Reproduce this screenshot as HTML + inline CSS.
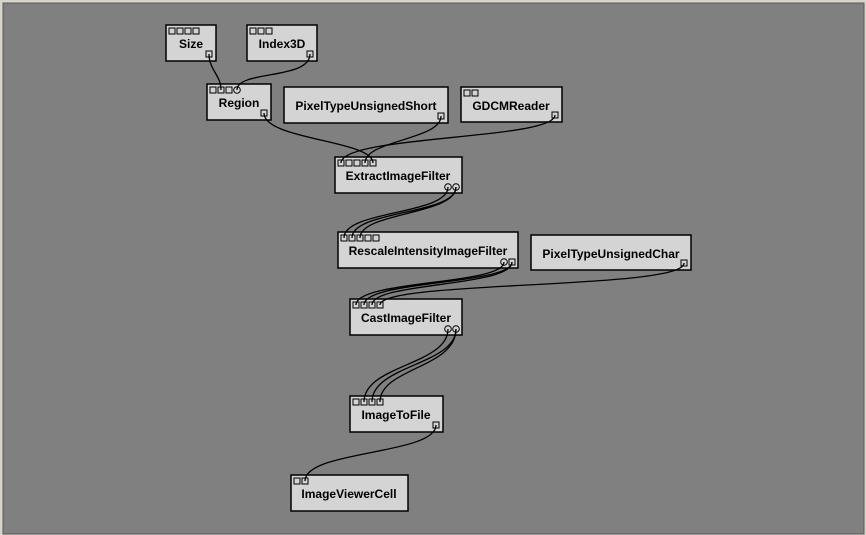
<!DOCTYPE html>
<html><head><meta charset="utf-8"><style>
html,body{margin:0;padding:0;background:#d8d4cc;}
svg{display:block}
text{font-family:"Liberation Sans",sans-serif;font-weight:bold;font-size:12px;fill:#000;text-anchor:middle}
.b{fill:#d4d4d4;stroke:#000;stroke-width:1.5}
.p{fill:#d4d4d4;stroke:#000;stroke-width:1}
.c{fill:none;stroke:#000;stroke-width:1.3}
</style></head><body>
<svg width="866" height="535" viewBox="0 0 866 535" xmlns="http://www.w3.org/2000/svg">
<rect x="0" y="0" width="866" height="535" fill="#d8d4cc"/>
<rect x="3" y="3" width="861" height="531" fill="#808080" stroke="#5a5a5a" stroke-width="1"/>
<g id="boxes">
<rect class="b" x="166" y="25" width="50" height="36"/><text x="191" y="48">Size</text>
<rect class="b" x="247" y="25" width="70" height="36"/><text x="282" y="48">Index3D</text>
<rect class="b" x="207" y="84" width="64" height="36"/><text x="239" y="107">Region</text>
<rect class="b" x="284" y="87" width="164" height="36"/><text x="366" y="110">PixelTypeUnsignedShort</text>
<rect class="b" x="461" y="87" width="101" height="35"/><text x="511" y="110">GDCMReader</text>
<rect class="b" x="335" y="157" width="127" height="36"/><text x="398" y="180">ExtractImageFilter</text>
<rect class="b" x="338" y="232" width="180" height="36"/><text x="428" y="255">RescaleIntensityImageFilter</text>
<rect class="b" x="531" y="235" width="160" height="35"/><text x="611" y="258">PixelTypeUnsignedChar</text>
<rect class="b" x="350" y="299" width="112" height="36"/><text x="406" y="322">CastImageFilter</text>
<rect class="b" x="350" y="396" width="93" height="36"/><text x="396" y="419">ImageToFile</text>
<rect class="b" x="291" y="475" width="117" height="36"/><text x="349" y="498">ImageViewerCell</text>
</g>
<g id="ports">
<!-- Size 4 in -->
<rect class="p" x="169" y="28" width="6" height="6"/><rect class="p" x="177" y="28" width="6" height="6"/><rect class="p" x="185" y="28" width="6" height="6"/><rect class="p" x="193" y="28" width="6" height="6"/>
<rect class="p" x="206" y="51" width="6" height="6"/>
<!-- Index3D -->
<rect class="p" x="250" y="28" width="6" height="6"/><rect class="p" x="258" y="28" width="6" height="6"/><rect class="p" x="266" y="28" width="6" height="6"/>
<rect class="p" x="307" y="51" width="6" height="6"/>
<!-- Region -->
<rect class="p" x="210" y="87" width="6" height="6"/><rect class="p" x="218" y="87" width="6" height="6"/><rect class="p" x="226" y="87" width="6" height="6"/><circle class="p" cx="237" cy="90" r="3.3"/>
<rect class="p" x="261" y="110" width="6" height="6"/>
<!-- PTUS -->
<rect class="p" x="438" y="113" width="6" height="6"/>
<!-- GDCM -->
<rect class="p" x="464" y="90" width="6" height="6"/><rect class="p" x="472" y="90" width="6" height="6"/>
<rect class="p" x="552" y="112" width="6" height="6"/>
<!-- Extract -->
<rect class="p" x="338" y="160" width="6" height="6"/><rect class="p" x="346" y="160" width="6" height="6"/><rect class="p" x="354" y="160" width="6" height="6"/><rect class="p" x="362" y="160" width="6" height="6"/><rect class="p" x="370" y="160" width="6" height="6"/>
<circle class="p" cx="448" cy="187" r="3.3"/><circle class="p" cx="456" cy="187" r="3.3"/>
<!-- Rescale -->
<rect class="p" x="341" y="235" width="6" height="6"/><rect class="p" x="349" y="235" width="6" height="6"/><rect class="p" x="357" y="235" width="6" height="6"/><rect class="p" x="365" y="235" width="6" height="6"/><rect class="p" x="373" y="235" width="6" height="6"/>
<circle class="p" cx="504" cy="262" r="3.3"/><rect class="p" x="509" y="259" width="6" height="6"/>
<!-- PTUC -->
<rect class="p" x="681" y="260" width="6" height="6"/>
<!-- Cast -->
<rect class="p" x="353" y="302" width="6" height="6"/><rect class="p" x="361" y="302" width="6" height="6"/><rect class="p" x="369" y="302" width="6" height="6"/><rect class="p" x="377" y="302" width="6" height="6"/>
<circle class="p" cx="448" cy="329" r="3.3"/><circle class="p" cx="456" cy="329" r="3.3"/>
<!-- ImageToFile -->
<rect class="p" x="353" y="399" width="6" height="6"/><rect class="p" x="361" y="399" width="6" height="6"/><rect class="p" x="369" y="399" width="6" height="6"/><rect class="p" x="377" y="399" width="6" height="6"/>
<rect class="p" x="433" y="422" width="6" height="6"/>
<!-- Viewer -->
<rect class="p" x="294" y="478" width="6" height="6"/><rect class="p" x="302" y="478" width="6" height="6"/>
</g>
<g id="conns">
<path class="c" d="M209,54 C209,70 221,75 221,90"/>
<path class="c" d="M310,54 C310,80 237,70 237,90"/>
<path class="c" d="M264,113 C264,140 373,140 373,163"/>
<path class="c" d="M441,116 C441,140 365,140 365,163"/>
<path class="c" d="M555,115 C555,140 341,135 341,163"/>
<path class="c" d="M448,187 C448,215 344,210 344,238"/>
<path class="c" d="M456,187 C456,215 352,210 352,238"/>
<path class="c" d="M456,187 C456,215 360,212 360,238"/>
<path class="c" d="M504,262 C504,285 356,280 356,305"/>
<path class="c" d="M512,262 C512,285 364,280 364,305"/>
<path class="c" d="M512,262 C512,287 372,282 372,305"/>
<path class="c" d="M684,263 C684,290 380,280 380,305"/>
<path class="c" d="M448,329 C448,365 364,365 364,402"/>
<path class="c" d="M456,329 C456,365 372,365 372,402"/>
<path class="c" d="M456,329 C456,368 380,368 380,402"/>
<path class="c" d="M436,425 C436,455 305,450 305,481"/>
</g>
</svg>
</body></html>
